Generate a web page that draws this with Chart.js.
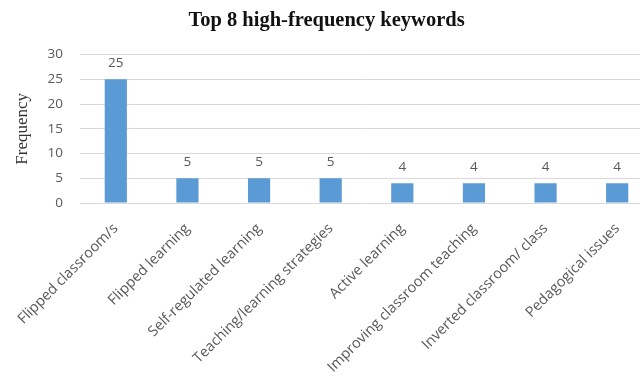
<!DOCTYPE html>
<html>
<head>
<meta charset="utf-8">
<script src="https://cdn.jsdelivr.net/npm/chart.js@4.4.1/dist/chart.umd.min.js"></script>
<style>
  html, body { margin: 0; padding: 0; background: #fff; overflow: hidden; }
  #wrap { width: 660px; height: 378px; }
</style>
</head>
<body>
<div id="wrap"><canvas id="c" width="660" height="378"></canvas></div>
<script>
const categories = [
  'Flipped classroom/s',
  'Flipped learning',
  'Self-regulated learning',
  'Teaching/learning strategies',
  'Active learning',
  'Improving classroom teaching',
  'Inverted classroom/ class',
  'Pedagogical issues'
];
const frequency = [25, 5, 5, 5, 4, 4, 4, 4];
const yTicks = [0, 5, 10, 15, 20, 25, 30];

const GRAY = '#595959';
const SANS = '"Open Sans", "Liberation Sans", sans-serif';
const SERIF = '"Liberation Serif", "Times New Roman", serif';

// Writes each bar's value just above it
const valueLabels = {
  id: 'valueLabels',
  afterDatasetsDraw(chart) {
    const ctx = chart.ctx;
    const meta = chart.getDatasetMeta(0);
    ctx.save();
    ctx.fillStyle = GRAY;
    ctx.font = '13.5px ' + SANS;
    ctx.textAlign = 'center';
    ctx.textBaseline = 'bottom';
    meta.data.forEach((bar, i) => {
      ctx.fillText(String(frequency[i]), bar.x, bar.y - 9);
    });
    ctx.restore();
  }
};

new Chart(document.getElementById('c'), {
  type: 'bar',
  data: {
    labels: categories,
    datasets: [{
      label: 'Frequency',
      data: frequency,
      backgroundColor: '#5B9BD5',
      borderWidth: 0,
      barPercentage: 0.31,
      categoryPercentage: 1.0
    }]
  },
  options: {
    responsive: false,
    animation: false,
    layout: { padding: { left: 0, right: 7, top: 0, bottom: 0 } },
    plugins: {
      legend: { display: false },
      tooltip: { enabled: false },
      title: {
        display: true,
        text: 'Top 8 high-frequency keywords',
        color: '#111',
        font: { family: SERIF, size: 20.5, weight: 'bold' },
        padding: { top: 8, bottom: 22 }
      }
    },
    scales: {
      x: {
        grid: { display: false, drawTicks: false },
        border: { display: false },
        ticks: {
          color: GRAY,
          font: { family: SANS, size: 14.5 },
          maxRotation: 45,
          minRotation: 45,
          autoSkip: false,
          padding: 17
        },
        afterFit(scale) {
          scale.height = 175;
          // rotated labels may hang past the plot edges; keep the plot where it is
          scale.paddingLeft = 0;
          scale.paddingRight = 0;
        }
      },
      y: {
        min: 0,
        max: 30,
        afterBuildTicks(scale) { scale.ticks = yTicks.map(v => ({ value: v })); },
        grid: { color: '#d9d9d9', lineWidth: 1, drawTicks: false },
        border: { display: false },
        ticks: {
          color: GRAY,
          font: { family: SANS, size: 13.5 },
          padding: 17
        },
        title: {
          display: true,
          text: 'Frequency',
          color: '#333',
          font: { family: SERIF, size: 17 },
          padding: { top: 12, bottom: 0 }
        },
        afterFit(scale) { scale.width = 80; }
      }
    }
  },
  plugins: [valueLabels]
});
</script>
</body>
</html>
